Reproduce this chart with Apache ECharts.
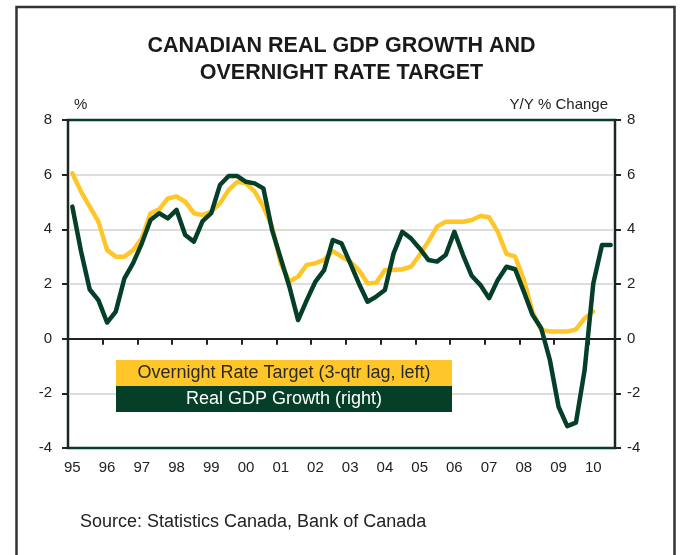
<!DOCTYPE html>
<html>
<head>
<meta charset="utf-8">
<script src="https://cdn.jsdelivr.net/npm/echarts@6/dist/echarts.min.js"></script>
<style>
html,body{margin:0;padding:0;background:#fff;}
#chart{width:683px;height:555px;}
</style>
</head>
<body>
<div id="chart"></div>
<script>
// Year tick labels (each year has four quarters; data start 1995Q1)
var yearLabels = ['95','96','97','98','99','00','01','02','03','04','05','06','07','08','09','10'];
var quarterNames = ['Q1','Q2','Q3','Q4'];

// Overnight rate target (3-quarter lag), left axis, %
var overnightRate = [
  6.05, 5.38, 4.83, 4.28, 3.24, 3.00, 3.00, 3.24,
  3.67, 4.59, 4.73, 5.13, 5.20, 5.01, 4.59, 4.52,
  4.65, 4.95, 5.44, 5.74, 5.68, 5.38, 4.83, 4.10,
  2.76, 2.09, 2.27, 2.70, 2.76, 2.88, 3.20, 3.00,
  2.82, 2.51, 2.02, 2.05, 2.51, 2.51, 2.54, 2.63,
  3.06, 3.55, 4.10, 4.28, 4.28, 4.28, 4.34, 4.49,
  4.44, 3.91, 3.10, 3.00, 2.15, 0.99, 0.32, 0.26,
  0.26, 0.26, 0.34, 0.74, 0.99, null, null
];

// Real GDP growth, right axis, Y/Y % change
var gdpGrowth = [
  4.83, 3.20, 1.80, 1.41, 0.59, 0.99, 2.21, 2.76,
  3.49, 4.34, 4.59, 4.40, 4.71, 3.79, 3.55, 4.30,
  4.59, 5.62, 5.95, 5.95, 5.74, 5.68, 5.50, 3.98,
  2.94, 1.90, 0.68, 1.41, 2.09, 2.51, 3.61, 3.49,
  2.76, 2.02, 1.35, 1.54, 1.78, 3.12, 3.91, 3.67,
  3.30, 2.88, 2.82, 3.06, 3.91, 3.06, 2.30, 1.96,
  1.48, 2.15, 2.63, 2.54, 1.72, 0.87, 0.38, -0.78,
  -2.49, -3.20, -3.07, -1.15, 2.02, 3.43, 3.43
];

var categories = [];
for (var y = 0; y < yearLabels.length; y++) {
  for (var q = 0; q < 4; q++) {
    if (categories.length < gdpGrowth.length) categories.push(yearLabels[y] + quarterNames[q]);
  }
}

var seriesNames = ['Overnight Rate Target (3-qtr lag, left)', 'Real GDP Growth (right)'];
var YELLOW = '#FFC629';
var GREEN = '#053F27';
var FONT = '"Liberation Sans", Arial, sans-serif';

var chart = echarts.init(document.getElementById('chart'), null, {renderer: 'canvas'});
chart.setOption({
  backgroundColor: '#fff',
  animation: false,
  title: {
    text: 'CANADIAN REAL GDP GROWTH AND\nOVERNIGHT RATE TARGET',
    left: 'center',
    top: 28,
    textStyle: {fontFamily: FONT, fontSize: 21.5, fontWeight: 'bold', color: '#1a1a1a', lineHeight: 27}
  },
  grid: {left: 68, right: 68, top: 120, bottom: 107, show: true, borderColor: GREEN, borderWidth: 2.5, backgroundColor: 'transparent'},
  xAxis: [
    {
      type: 'category', data: categories, boundaryGap: true, position: 'bottom',
      axisLine: {show: false, onZero: false},
      axisTick: {show: false},
      splitLine: {show: false},
      axisLabel: {
        interval: 3, margin: 12, color: '#222', fontFamily: FONT, fontSize: 15,
        formatter: function (v) { return v.slice(0, 2); }
      }
    },
    {
      type: 'category', data: categories, boundaryGap: true, position: 'bottom',
      axisLine: {show: true, onZero: true, onZeroAxisIndex: 0, lineStyle: {color: '#222', width: 2}},
      axisTick: {show: true, interval: 3, length: 6, inside: false, lineStyle: {color: '#222', width: 2}},
      axisLabel: {show: false},
      splitLine: {show: false}
    }
  ],
  yAxis: [
    {
      type: 'value', min: -4, max: 8, interval: 2, position: 'left',
      name: '%', nameLocation: 'end', nameGap: 8,
      nameTextStyle: {fontFamily: FONT, fontSize: 15, color: '#222', align: 'left', padding: [0, 0, 0, 6]},
      axisLine: {show: true, lineStyle: {color: '#222', width: 2}},
      axisTick: {show: true, length: 6, lineStyle: {color: '#222', width: 2}},
      axisLabel: {color: '#222', fontFamily: FONT, fontSize: 15, margin: 16},
      splitLine: {show: true, showMinLine: false, showMaxLine: false, lineStyle: {color: '#d2d2d2', width: 1.5}}
    },
    {
      type: 'value', min: -4, max: 8, interval: 2, position: 'right',
      name: 'Y/Y % Change', nameLocation: 'end', nameGap: 8,
      nameTextStyle: {fontFamily: FONT, fontSize: 15, color: '#222', align: 'right', padding: [0, 7, 0, 0]},
      axisLine: {show: true, lineStyle: {color: '#222', width: 2}},
      axisTick: {show: true, length: 6, lineStyle: {color: '#222', width: 2}},
      axisLabel: {color: '#222', fontFamily: FONT, fontSize: 15, margin: 12},
      splitLine: {show: false}
    }
  ],
  series: [
    {
      name: seriesNames[0], type: 'line', xAxisIndex: 0, yAxisIndex: 0, data: overnightRate,
      showSymbol: false, symbol: 'none', connectNulls: false, z: 3,
      lineStyle: {color: YELLOW, width: 4.5, join: 'round', cap: 'round'}
    },
    {
      name: seriesNames[1], type: 'line', xAxisIndex: 0, yAxisIndex: 1, data: gdpGrowth,
      showSymbol: false, symbol: 'none', z: 4,
      lineStyle: {color: GREEN, width: 4.5, join: 'round', cap: 'round'}
    }
  ],
  graphic: [
    {type: 'rect', left: 14, top: 4.5, shape: {x: 0, y: 0, width: 658, height: 560}, style: {fill: 'none', stroke: '#333', lineWidth: 2.5}, silent: true, z: 100},
    {type: 'rect', shape: {x: 116, y: 360, width: 336, height: 26}, style: {fill: YELLOW}, z: 50},
    {type: 'rect', shape: {x: 116, y: 386, width: 336, height: 26}, style: {fill: GREEN}, z: 50},
    {type: 'text', x: 284, y: 373, style: {text: seriesNames[0], fill: '#2a2a2a', font: '18px ' + FONT, textAlign: 'center', textVerticalAlign: 'middle'}, z: 51},
    {type: 'text', x: 284, y: 399, style: {text: seriesNames[1], fill: '#ffffff', font: '18px ' + FONT, textAlign: 'center', textVerticalAlign: 'middle'}, z: 51},
    {type: 'text', x: 80, y: 522, style: {text: 'Source: Statistics Canada, Bank of Canada', fill: '#222', font: '18px ' + FONT, textAlign: 'left', textVerticalAlign: 'middle'}, z: 51}
  ]
});
</script>
</body>
</html>
